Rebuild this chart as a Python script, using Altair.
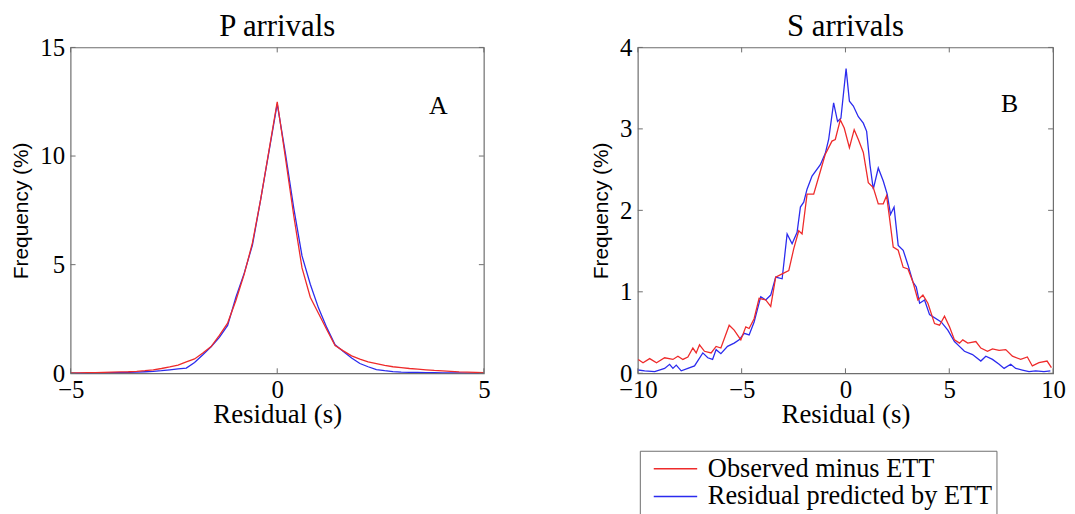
import altair as alt
import pandas as pd

# ---------------- P arrivals (panel A) ----------------
p_x = [-5.0, -4.8, -4.6, -4.4, -4.2, -4.0, -3.8, -3.6, -3.4, -3.2, -3.0, -2.8, -2.6, -2.4, -2.2,
       -2.0, -1.8, -1.6, -1.4, -1.2, -1.0, -0.8, -0.6, -0.4, -0.2, 0.0, 0.2, 0.4, 0.6, 0.8, 1.0,
       1.2, 1.4, 1.6, 1.8, 2.0, 2.2, 2.4, 2.6, 2.8, 3.0, 3.2, 3.4, 3.6, 3.8, 4.0, 4.2, 4.4, 4.6,
       4.8, 5.0]
p_obs = [0.02, 0.02, 0.03, 0.03, 0.04, 0.05, 0.06, 0.07, 0.09, 0.12, 0.16, 0.22, 0.29, 0.38, 0.52,
         0.66, 0.93, 1.23, 1.74, 2.31, 3.35, 4.55, 6.0, 8.0, 10.25, 12.5, 9.9, 7.25, 4.85, 3.5, 2.75,
         2.0, 1.28, 1.03, 0.8, 0.65, 0.52, 0.44, 0.36, 0.3, 0.26, 0.22, 0.19, 0.16, 0.13, 0.11, 0.09,
         0.06, 0.05, 0.04, 0.03]
p_pred = [0.01, 0.01, 0.01, 0.02, 0.02, 0.03, 0.03, 0.04, 0.05, 0.07, 0.09, 0.12, 0.16, 0.2, 0.24,
          0.5, 0.85, 1.22, 1.65, 2.2, 3.5, 4.6, 5.9, 8.0, 10.2, 12.4, 10.1, 7.6, 5.4, 4.1, 3.0,
          2.1, 1.31, 1.0, 0.7, 0.45, 0.3, 0.17, 0.12, 0.08, 0.05, 0.04, 0.04, 0.03, 0.03, 0.02, 0.02,
          0.02, 0.01, 0.01, 0.01]

# ---------------- S arrivals (panel B) ----------------
s_obs_x = [-9.98, -9.75, -9.43, -9.1, -8.71, -8.31, -8.07, -7.83, -7.59, -7.35, -7.19, -7.03, -6.79,
           -6.47, -6.23, -6.0, -5.6, -5.36, -5.04, -4.8, -4.64, -4.4, -4.16, -3.84, -3.6, -3.36,
           -3.05, -2.73, -2.49, -2.25, -2.09, -1.85, -1.53, -1.21, -0.97, -0.65, -0.49, -0.25,
           -0.06, 0.19, 0.42, 0.62, 0.86, 1.1, 1.34, 1.58, 1.82, 1.98, 2.1, 2.3, 2.54, 2.78, 3.01,
           3.25, 3.49, 3.73, 3.97, 4.29, 4.53, 4.77, 5.01, 5.25, 5.49, 5.65, 5.89, 6.28, 6.52, 6.84,
           7.08, 7.4, 7.72, 8.04, 8.44, 8.76, 9.0, 9.32, 9.71, 9.92]
s_obs_y = [0.17, 0.13, 0.18, 0.13, 0.19, 0.17, 0.21, 0.17, 0.2, 0.31, 0.25, 0.35, 0.27,
           0.25, 0.33, 0.31, 0.59, 0.53, 0.41, 0.57, 0.55, 0.67, 0.92, 0.9, 0.82, 1.18,
           1.22, 1.26, 1.53, 1.75, 1.71, 2.2, 2.2, 2.48, 2.69, 2.85, 2.87, 3.11,
           3.01, 2.77, 2.99, 2.87, 2.71, 2.34, 2.28, 2.08, 2.08, 2.18, 1.95, 1.55, 1.51, 1.3, 1.28,
           1.12, 0.9, 0.96, 0.86, 0.61, 0.59, 0.7, 0.57, 0.41, 0.37, 0.41, 0.37, 0.39, 0.31, 0.27,
           0.3, 0.28, 0.29, 0.21, 0.17, 0.2, 0.09, 0.13, 0.15, 0.07]
s_pred_x = [-9.98, -9.67, -9.19, -8.71, -8.47, -8.31, -8.15, -7.91, -7.59, -7.27, -6.87, -6.63, -6.4,
            -6.23, -6.0, -5.68, -5.36, -5.12, -4.88, -4.64, -4.4, -4.08, -3.84, -3.6, -3.36, -3.05,
            -2.81, -2.57, -2.33, -2.17, -2.01, -1.85, -1.61, -1.21, -0.97, -0.81, -0.57, -0.38,
            -0.22, 0.03, 0.19, 0.38, 0.62, 0.86, 1.02, 1.18, 1.34, 1.58, 1.82, 2.01, 2.17, 2.34,
            2.54, 2.78, 3.01, 3.25, 3.41, 3.57, 3.81, 4.05, 4.61, 4.93, 5.25, 5.49, 5.73, 6.12,
            6.52, 6.76, 7.08, 7.4, 7.64, 7.96, 8.2, 8.52, 8.84, 9.16, 9.56, 9.87]
s_pred_y = [0.04, 0.03, 0.02, 0.06, 0.11, 0.06, 0.1, 0.03, 0.06, 0.09, 0.25, 0.19, 0.17,
            0.29, 0.24, 0.33, 0.37, 0.41, 0.49, 0.47, 0.63, 0.94, 0.9, 0.96, 1.18, 1.16,
            1.71, 1.59, 1.73, 2.04, 2.1, 2.26, 2.42, 2.56, 2.7, 2.87, 3.32, 3.09,
            3.13, 3.74, 3.34, 3.28, 3.15, 3.07, 2.97, 2.56, 2.26, 2.52, 2.36, 2.2, 1.95, 2.04,
            1.57, 1.51, 1.33, 1.12, 1.06, 0.86, 0.9, 0.72, 0.63, 0.53, 0.39, 0.33, 0.27, 0.23,
            0.15, 0.21, 0.17, 0.11, 0.06, 0.11, 0.06, 0.04, 0.02, 0.03, 0.02, 0.03]

series_names = ["Observed minus ETT", "Residual predicted by ETT"]
series_colors = ["#ee2b2b", "#2b2bee"]

p_xticks = [-5, 0, 5]
p_yticks = [0, 5, 10, 15]
s_xticks = [-10, -5, 0, 5, 10]
s_yticks = [0, 1, 2, 3, 4]

p_label = {"x": [3.9], "y": [12.3], "t": ["A"]}
s_label = {"x": [7.9], "y": [3.3], "t": ["B"]}

FRAME = "#6e6e6e"
SERIF = "Liberation Serif"
SANS = "Liberation Sans"


def long_df(x1, y1, x2, y2):
    a = pd.DataFrame({"x": x1, "y": y1, "s": series_names[0]})
    b = pd.DataFrame({"x": x2, "y": y2, "s": series_names[1]})
    return pd.concat([b, a], ignore_index=True)


def panel(df, xdom, ydom, xticks, yticks, w, h, title, lab, legend):
    xs = alt.Scale(domain=xdom, nice=False, zero=False)
    ys = alt.Scale(domain=ydom, nice=False, zero=False)
    color = alt.Color("s:N", scale=alt.Scale(domain=series_names, range=series_colors),
                      legend=legend, title=None)
    lines = alt.Chart(df).mark_line(strokeWidth=1.3, clip=True).encode(
        x=alt.X("x:Q", scale=xs, title="Residual (s)",
                axis=alt.Axis(values=xticks, format="d")),
        y=alt.Y("y:Q", scale=ys, title="Frequency (%)",
                axis=alt.Axis(values=yticks, format="d")),
        color=color,
        order=alt.Order("x:Q"),
    )
    xt = pd.DataFrame({"x": xticks})
    yt = pd.DataFrame({"y": yticks})
    tb = alt.Chart(xt).mark_rule(color=FRAME, strokeWidth=1).encode(
        x=alt.X("x:Q", scale=xs), y=alt.value(h), y2=alt.value(h - 5))
    tt = alt.Chart(xt).mark_rule(color=FRAME, strokeWidth=1).encode(
        x=alt.X("x:Q", scale=xs), y=alt.value(0), y2=alt.value(5))
    tl = alt.Chart(yt).mark_rule(color=FRAME, strokeWidth=1).encode(
        y=alt.Y("y:Q", scale=ys), x=alt.value(0), x2=alt.value(5))
    tr = alt.Chart(yt).mark_rule(color=FRAME, strokeWidth=1).encode(
        y=alt.Y("y:Q", scale=ys), x=alt.value(w), x2=alt.value(w - 5))
    txt = alt.Chart(pd.DataFrame(lab)).mark_text(font=SERIF, fontSize=26, color="black").encode(
        x=alt.X("x:Q", scale=xs), y=alt.Y("y:Q", scale=ys), text="t:N")
    return alt.layer(lines, tb, tt, tl, tr, txt).properties(
        width=w, height=h,
        title=alt.TitleParams(title, font=SERIF, fontSize=31, fontWeight="normal", offset=-7))


left = panel(long_df(p_x, p_obs, p_x, p_pred), [-5, 5], [0, 15], p_xticks, p_yticks,
             416, 328, "P arrivals", p_label, None)

legend = alt.Legend(orient="none", legendX=2, legendY=406, direction="vertical",
                    symbolType="M-0.3,0H3.0", symbolSize=702, symbolStrokeWidth=1.5,
                    symbolFillColor="transparent",
                    labelFont=SERIF, labelFontSize=26.5, labelColor="black", labelOffset=36.5,
                    strokeColor=FRAME, fillColor="white", padding=4, rowPadding=0,
                    labelLimit=400)
right = panel(long_df(s_obs_x, s_obs_y, s_pred_x, s_pred_y), [-10, 10], [0, 4], s_xticks,
              s_yticks, 418, 328, "S arrivals", s_label, legend)

chart = alt.hconcat(left, right, spacing=155, bounds="flush").resolve_scale(
    color="independent"
).properties(
    padding={"left": 2, "top": 0, "right": 0, "bottom": 0}
).configure_view(
    stroke=FRAME, strokeWidth=1.2
).configure_axis(
    grid=False, domain=False, ticks=False, labelFlush=False,
    labelFont=SERIF, labelFontSize=25, labelColor="black", labelPadding=6,
    titleFont=SERIF, titleFontSize=27, titleFontWeight="normal", titleColor="black",
).configure_axisY(
    titleFont=SANS, titleFontSize=21, titlePadding=8
).configure_axisX(
    labelPadding=4, titlePadding=0
)

chart.save("out.html", embed_options={"renderer": "svg", "actions": False})
